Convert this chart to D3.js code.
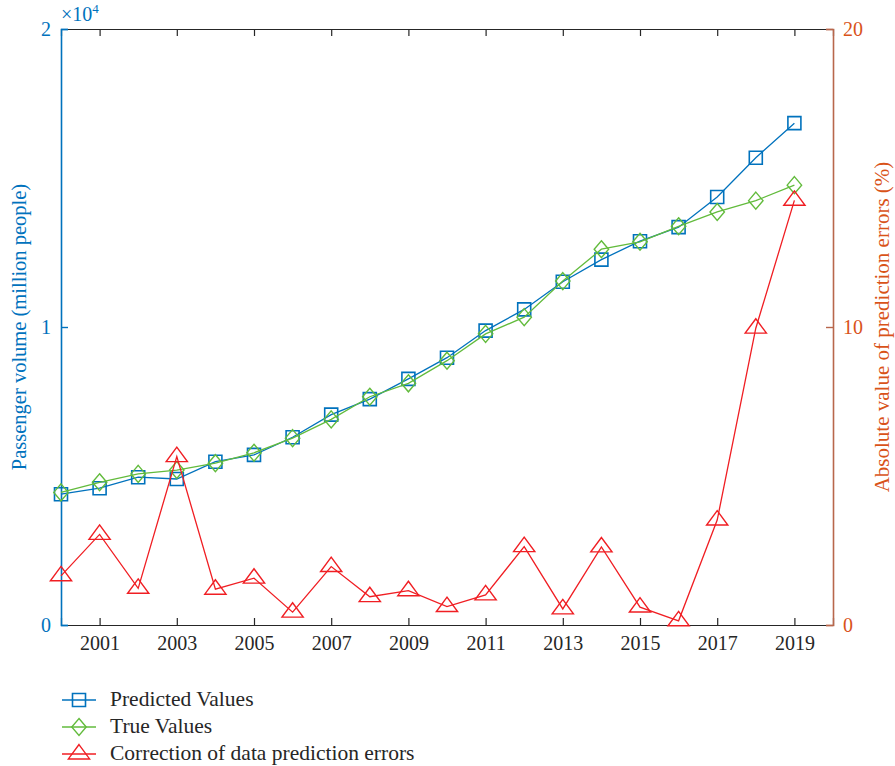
<!DOCTYPE html>
<html>
<head>
<meta charset="utf-8">
<script src="https://cdn.jsdelivr.net/npm/d3@7"></script>
<style>
  html, body { margin: 0; padding: 0; background: #fff; }
  svg { display: block; font-family: "Liberation Serif", "DejaVu Serif", serif; }
</style>
</head>
<body>
<svg id="chart" width="895" height="766"></svg>
<script>
// Passenger volume (×10^4 million people) and relative prediction error (%) per year
const years = [2000, 2001, 2002, 2003, 2004, 2005, 2006, 2007, 2008, 2009,
               2010, 2011, 2012, 2013, 2014, 2015, 2016, 2017, 2018, 2019];
const predicted = [0.439, 0.459, 0.496, 0.490, 0.548, 0.571, 0.630, 0.706, 0.758, 0.826,
                   0.897, 0.988, 1.059, 1.152, 1.226, 1.288, 1.335, 1.436, 1.568, 1.684];
const trueValues = [0.445, 0.479, 0.507, 0.520, 0.543, 0.578, 0.627, 0.690, 0.766, 0.811,
                    0.887, 0.977, 1.033, 1.154, 1.261, 1.286, 1.338, 1.386, 1.424, 1.476];
const errors = [1.65, 3.04, 1.23, 5.65, 1.20, 1.57, 0.43, 1.96, 0.95, 1.15,
                0.62, 1.01, 2.63, 0.54, 2.62, 0.60, 0.14, 3.52, 9.96, 14.25];
const xTicks = [2001, 2003, 2005, 2007, 2009, 2011, 2013, 2015, 2017, 2019];
const leftTicks = [0, 1, 2];
const rightTicks = [0, 10, 20];
const legendLabels = ["Predicted Values", "True Values", "Correction of data prediction errors"];

const C_BLUE = "#0072BD", C_GREEN = "#62BB3C", C_RED = "#F01E23";
const C_ORANGE = "#D95319", C_RAXIS = "#B8674C", C_DARK = "#262626";
const TICK_FS = 20;

const svg = d3.select("#chart");
const L = 61, R = 833, T = 29, B = 625;

const x = d3.scaleLinear().domain([2000, 2020]).range([L, R]);
const yL = d3.scaleLinear().domain([0, 2]).range([B, T]);
const yR = d3.scaleLinear().domain([0, 20]).range([B, T]);

// Bottom and top axes (ticks pointing inward)
const axBottom = svg.append("g").attr("transform", `translate(0,${B})`)
  .call(d3.axisBottom(x).tickValues(xTicks).tickFormat(d3.format("d")).tickSize(-7).tickPadding(11));
const axTop = svg.append("g").attr("transform", `translate(0,${T})`)
  .call(d3.axisTop(x).tickValues(xTicks).tickFormat("").tickSize(-7));
[axBottom, axTop].forEach(g => {
  g.select(".domain").attr("stroke", C_DARK).attr("stroke-width", 1.2);
  g.selectAll(".tick line").attr("stroke", C_DARK).attr("stroke-width", 1.2);
  g.selectAll(".tick text").attr("fill", C_DARK).attr("font-size", TICK_FS)
    .attr("font-family", "Liberation Serif");
});

// Left axis
const axLeft = svg.append("g").attr("transform", `translate(${L},0)`)
  .call(d3.axisLeft(yL).tickValues(leftTicks).tickFormat(d3.format("d")).tickSize(-7).tickPadding(10));
axLeft.select(".domain").attr("stroke", C_BLUE).attr("stroke-width", 1.6);
axLeft.selectAll(".tick line").attr("stroke", C_BLUE).attr("stroke-width", 1.4);
axLeft.selectAll(".tick text").attr("fill", C_BLUE).attr("font-size", TICK_FS)
  .attr("font-family", "Liberation Serif");

// Right axis
const axRight = svg.append("g").attr("transform", `translate(${R},0)`)
  .call(d3.axisRight(yR).tickValues(rightTicks).tickFormat(d3.format("d")).tickSize(-7).tickPadding(10));
axRight.select(".domain").attr("stroke", C_RAXIS).attr("stroke-width", 1.6);
axRight.selectAll(".tick line").attr("stroke", C_RAXIS).attr("stroke-width", 1.4);
axRight.selectAll(".tick text").attr("fill", C_ORANGE).attr("font-size", TICK_FS)
  .attr("font-family", "Liberation Serif");

// Exponent label
const ex = svg.append("text").attr("x", L).attr("y", T - 8)
  .attr("fill", C_BLUE).attr("font-size", 20);
ex.append("tspan").text("×10");
ex.append("tspan").text("4").attr("font-size", 13).attr("dy", -8);

// Axis titles
svg.append("text")
  .attr("transform", `translate(26,${(T + B) / 2}) rotate(-90)`)
  .attr("text-anchor", "middle").attr("fill", C_BLUE).attr("font-size", 20.5)
  .text("Passenger volume (million people)");
svg.append("text")
  .attr("transform", `translate(889,${(T + B) / 2 - 0}) rotate(-90)`)
  .attr("text-anchor", "middle").attr("fill", C_ORANGE).attr("font-size", 21)
  .text("Absolute value of prediction errors (%)");

// Marker shapes
const square = s => `M${-s},${-s}H${s}V${s}H${-s}Z`;
const diamond = s => `M0,${-s}L${s * 0.85},0L0,${s}L${-s * 0.85},0Z`;
const triangle = s => `M0,${-s * 1.05}L${s * 1.18},${s * 0.55}L${-s * 1.18},${s * 0.55}Z`;

const series = [
  { values: predicted, y: yL, color: C_BLUE, marker: square(6.5), mw: 1.6 },
  { values: trueValues, y: yL, color: C_GREEN, marker: diamond(8.5), mw: 1.4 },
  { values: errors, y: yR, color: C_RED, marker: triangle(9), mw: 1.4 }
];

series.forEach(s => {
  const line = d3.line().x((d, i) => x(years[i])).y(d => s.y(d));
  svg.append("path").datum(s.values).attr("d", line)
    .attr("fill", "none").attr("stroke", s.color).attr("stroke-width", 1.3);
  svg.append("g").selectAll("path").data(s.values).join("path")
    .attr("transform", (d, i) => `translate(${x(years[i])},${s.y(d)})`)
    .attr("d", s.marker).attr("fill", "none")
    .attr("stroke", s.color).attr("stroke-width", s.mw);
});

// Legend
const lg = svg.append("g");
legendLabels.forEach((lab, i) => {
  const cy = 700 + i * 27;
  const s = series[i];
  lg.append("line").attr("x1", 62).attr("x2", 96).attr("y1", cy).attr("y2", cy)
    .attr("stroke", s.color).attr("stroke-width", 1.3);
  lg.append("path").attr("transform", `translate(79,${cy})`).attr("d", s.marker)
    .attr("fill", "none").attr("stroke", s.color).attr("stroke-width", s.mw);
  lg.append("text").attr("x", 110).attr("y", cy + 6).attr("fill", C_DARK)
    .attr("font-size", 21.5).text(lab);
});
</script>
</body>
</html>
